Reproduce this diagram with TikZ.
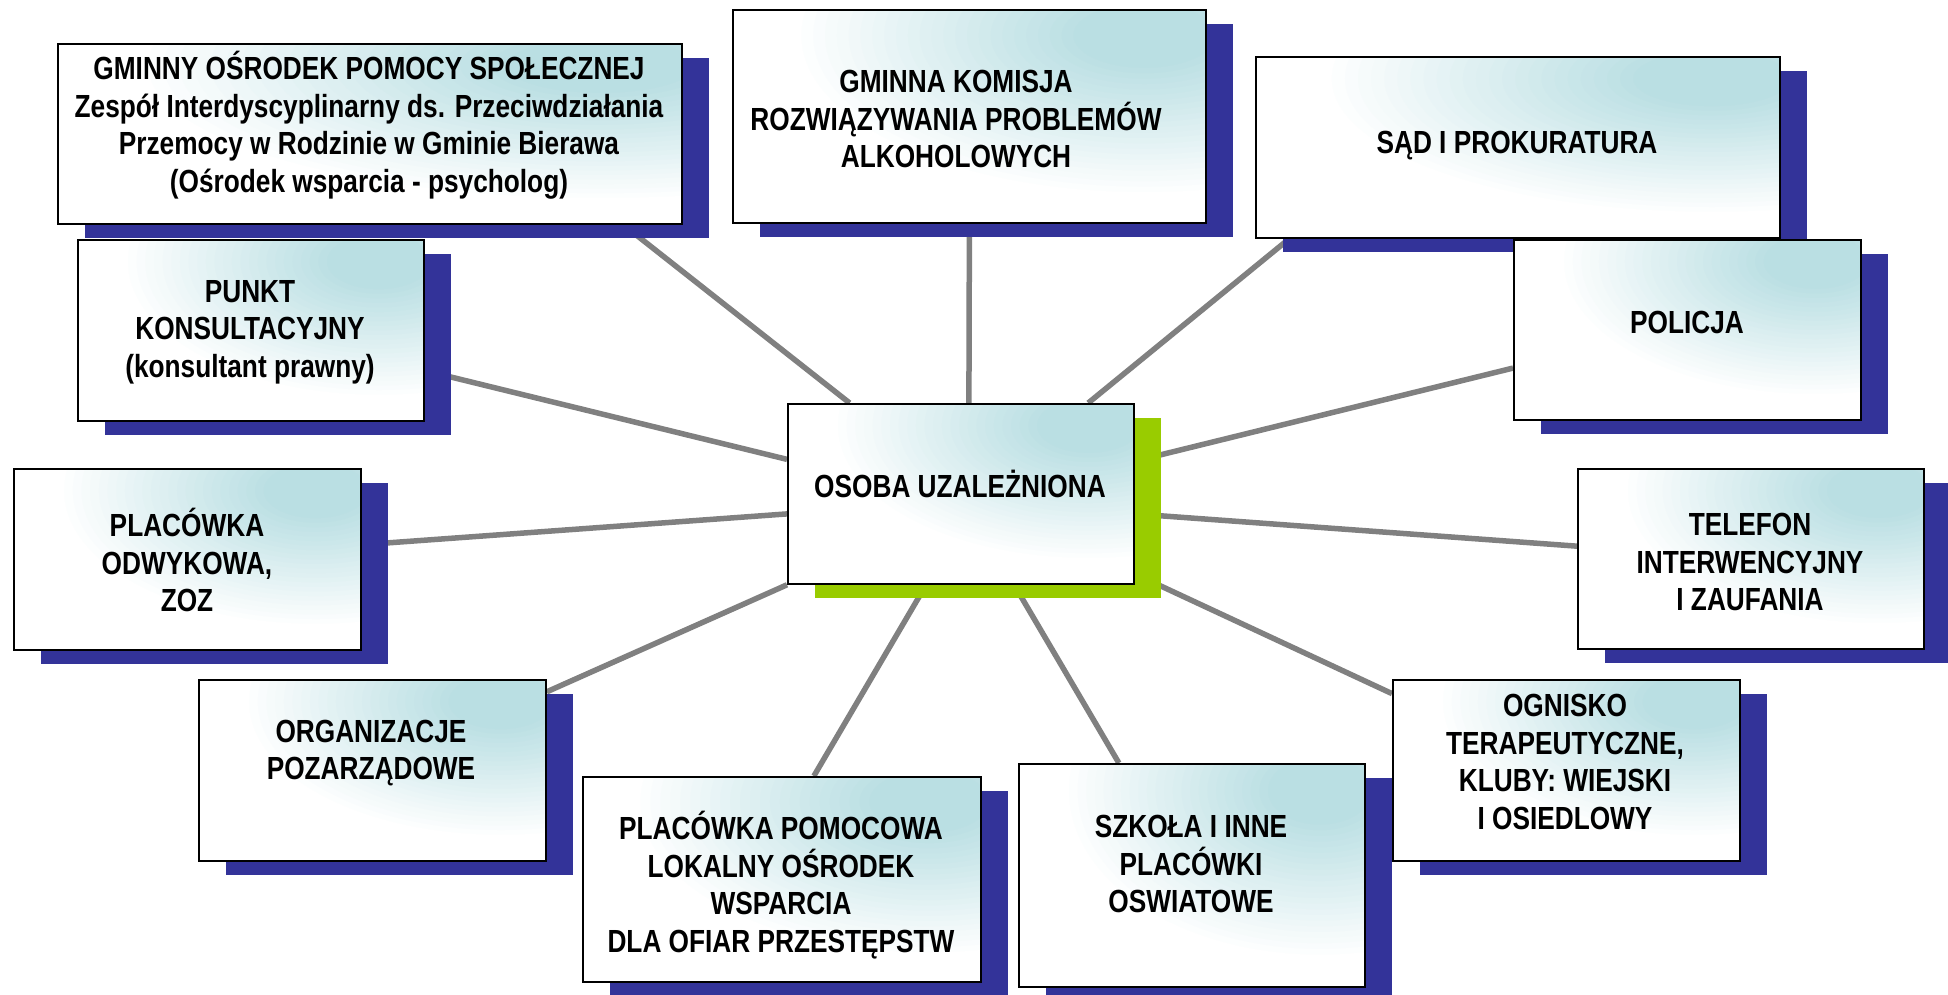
\documentclass[tikz,border=0pt]{standalone}
\usepackage{fontspec}
\setmainfont{Liberation Sans}[FakeStretch=0.82]
\usetikzlibrary{shadows,backgrounds,calc}
\definecolor{tealc}{RGB}{186,223,227}
\definecolor{shblue}{RGB}{51,51,153}
\definecolor{shgreen}{RGB}{153,204,0}
\definecolor{linegray}{RGB}{128,128,128}
\begin{document}
\begin{tikzpicture}[x=1pt,y=-1pt,
  basebox/.style={rectangle, draw=black, line width=1.8pt, fill=white, anchor=north west, inner sep=0pt,
    path picture={
      \foreach \k in {0,...,29}{
        \pgfmathsetmacro\rr{1-\k/30}
        \pgfmathsetmacro\pp{min(100,100*\k/24)}
        \fill[tealc!\pp!white] let \p1=(path picture bounding box.north east), \p2=(path picture bounding box.south west) in
          ({\x2+0.87*(\x1-\x2)},{\y1-0.12*(\y1-\y2)}) ellipse ({\rr*0.75*(\x1-\x2)} and {\rr*0.76*(\y1-\y2)});
      }}},
  bluebox/.style={basebox, drop shadow={shadow xshift=27pt, shadow yshift=-14pt, fill=shblue, opacity=1}},
  greenbox/.style={basebox, drop shadow={shadow xshift=27pt, shadow yshift=-14pt, fill=shgreen, opacity=1}},
  txt/.style={align=center, inner sep=0pt, font=\bfseries\fontsize{32}{37.5}\selectfont},
  conn/.style={draw=linegray, line width=5.5pt}]
\useasboundingbox (0,0) rectangle (1948,995);

% boxes
\node[bluebox, minimum width=624pt, minimum height=180pt] (gops) at (57,43) {};
\node[bluebox, minimum width=473pt, minimum height=213pt] (gk) at (732,9) {};
\node[bluebox, minimum width=524pt, minimum height=181pt] (sad) at (1255,56) {};
\node[bluebox, minimum width=347pt, minimum height=180pt] (pol) at (1513,239) {};
\node[bluebox, minimum width=346pt, minimum height=181pt] (pk) at (77,239) {};
\node[greenbox, minimum width=346pt, minimum height=180pt] (c) at (787,403) {};
\node[bluebox, minimum width=347pt, minimum height=181pt] (odw) at (13,468) {};
\node[bluebox, minimum width=346pt, minimum height=180pt] (tel) at (1577,468) {};
\node[bluebox, minimum width=347pt, minimum height=181pt] (org) at (198,679) {};
\node[bluebox, minimum width=398pt, minimum height=205pt] (pom) at (582,776) {};
\node[bluebox, minimum width=346pt, minimum height=223pt] (szk) at (1018,763) {};
\node[bluebox, minimum width=347pt, minimum height=181pt] (ogn) at (1392,679) {};

% texts
\node[txt] (gopst) at (369,125) {GMINNY OŚRODEK POMOCY SPOŁECZNEJ\\Zespół Interdyscyplinarny ds. Przeciwdziałania\\Przemocy w Rodzinie w Gminie Bierawa\\(Ośrodek wsparcia - psycholog)};
\node[txt] (gkt) at (956,119) {GMINNA KOMISJA\\ROZWIĄZYWANIA PROBLEMÓW\\ALKOHOLOWYCH};
\node[txt] (sadt) at (1517,146) {SĄD I PROKURATURA};
\node[txt] (polt) at (1687,322) {POLICJA};
\node[txt] (pkt) at (250,332) {PUNKT\\KONSULTACYJNY\\(konsultant prawny)};
\node[txt] (ct) at (960,484) {OSOBA UZALEŻNIONA};
\node[txt] (odwt) at (187,560) {PLACÓWKA\\ODWYKOWA,\\ZOZ};
\node[txt] (telt) at (1750,562) {TELEFON\\INTERWENCYJNY\\I ZAUFANIA};
\node[txt] (orgt) at (371,753) {ORGANIZACJE\\POZARZĄDOWE};
\node[txt] (pomt) at (781,885) {PLACÓWKA POMOCOWA\\LOKALNY OŚRODEK\\WSPARCIA\\DLA OFIAR PRZESTĘPSTW};
\node[txt] (szkt) at (1191,864) {SZKOŁA I INNE\\PLACÓWKI\\OSWIATOWE};
\node[txt] (ognt) at (1565,762) {OGNISKO\\TERAPEUTYCZNE,\\KLUBY: WIEJSKI\\I OSIEDLOWY};

% connectors
\begin{scope}[on background layer]
\fill[white] (0,0) rectangle (1948,995);
\draw[conn] ($(c.north west)!0.18!(c.north east)$) -- ($(gops.south west)!0.905!(gops.south east)$);
\draw[conn] ($(c.north west)!0.523!(c.north east)$) -- ($(gk.south west)!0.5!(gk.south east)$);
\draw[conn] ($(c.north west)!0.866!(c.north east)$) -- ($(sad.south west)!0.065!(sad.south east)$);
\draw[conn] ($(c.north west)!0.31!(c.south west)$) -- ($(pk.north east)!0.72!(pk.south east)$);
\draw[conn] ($(c.north west)!0.61!(c.south west)$) -- ($(odw.north east)!0.42!(odw.south east)$);
\draw[conn] (c.south west) -- ($(org.north east)!0.07!(org.south east)$);
\draw[conn] ($(c.south west)!0.40!(c.south east)$) -- ($(pom.north west)!0.58!(pom.north east)$);
\draw[conn] ($(c.south west)!0.653!(c.south east)$) -- ($(szk.north west)!0.29!(szk.north east)$);
\draw[conn] ($(c.north east)!0.32!(c.south east)$) -- ($(pol.north west)!0.71!(pol.south west)$);
\draw[conn] ($(c.north east)!0.61!(c.south east)$) -- ($(tel.north west)!0.43!(tel.south west)$);
\draw[conn] ($(c.north east)!0.94!(c.south east)$) -- ($(ogn.north west)!0.08!(ogn.south west)$);
\end{scope}
\end{tikzpicture}
\end{document}
